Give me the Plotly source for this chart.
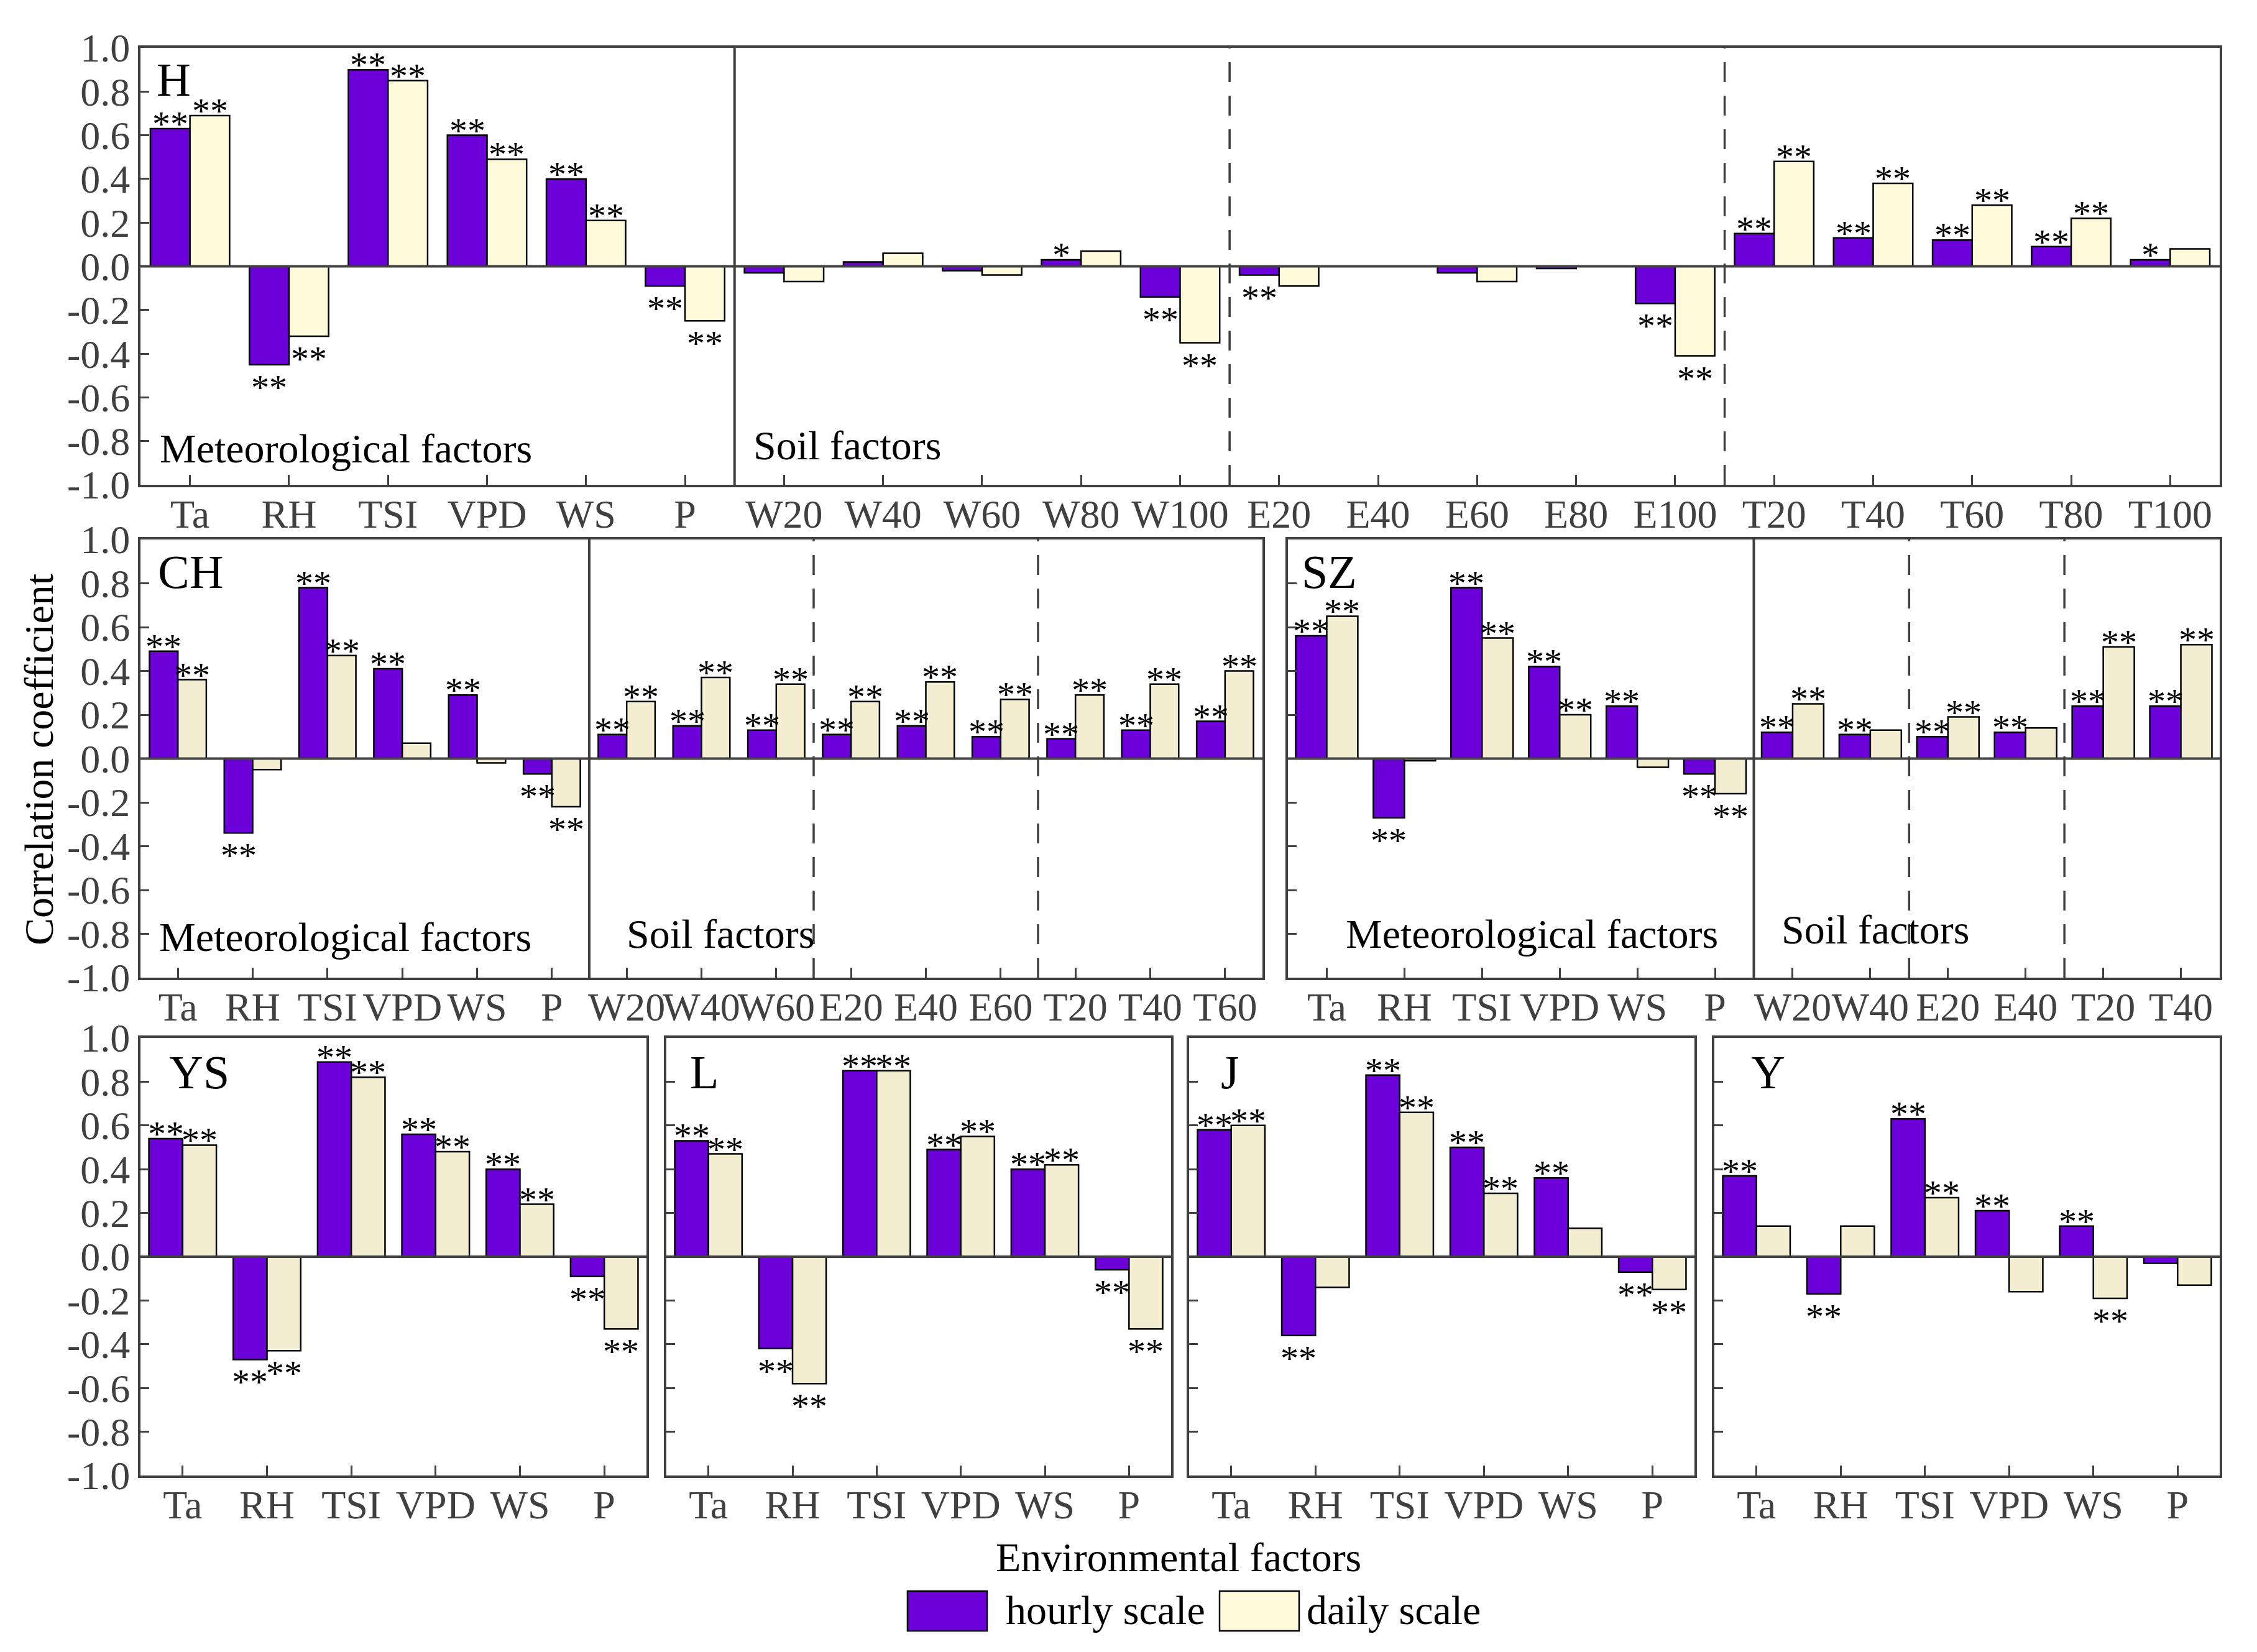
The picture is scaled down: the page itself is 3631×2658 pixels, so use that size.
import plotly.graph_objects as go

# ---- data ----
met = ["Ta", "RH", "TSI", "VPD", "WS", "P"]
h_soil = ["W20", "W40", "W60", "W80", "W100", "E20", "E40", "E60", "E80", "E100",
          "T20", "T40", "T60", "T80", "T100"]
ch_soil = ["W20", "W40", "W60", "E20", "E40", "E60", "T20", "T40", "T60"]
sz_soil = ["W20", "W40", "E20", "E40", "T20", "T40"]

H_hourly = [0.63, -0.45, 0.90, 0.60, 0.40, -0.09,
            -0.03, 0.02, -0.02, 0.03, -0.14, -0.04, 0.00, -0.03, -0.01, -0.17,
            0.15, 0.13, 0.12, 0.09, 0.03]
H_daily = [0.69, -0.32, 0.85, 0.49, 0.21, -0.25,
           -0.07, 0.06, -0.04, 0.07, -0.35, -0.09, 0.00, -0.07, 0.00, -0.41,
           0.48, 0.38, 0.28, 0.22, 0.08]
H_sig_hourly = ["**", "**", "**", "**", "**", "**", "", "", "", "*", "**",
                "**", "", "", "", "**", "**", "**", "**", "**", "*"]
H_sig_daily = ["**", "**", "**", "**", "**", "**", "", "", "", "", "**",
               "", "", "", "", "**", "**", "**", "**", "**", ""]

CH_hourly = [0.49, -0.34, 0.78, 0.41, 0.29, -0.07,
             0.11, 0.15, 0.13, 0.11, 0.15, 0.10, 0.09, 0.13, 0.17]
CH_daily = [0.36, -0.05, 0.47, 0.07, -0.02, -0.22,
            0.26, 0.37, 0.34, 0.26, 0.35, 0.27, 0.29, 0.34, 0.40]
CH_sig_hourly = ["**"] * 15
CH_sig_daily = ["**", "", "**", "", "", "**",
                "**", "**", "**", "**", "**", "**", "**", "**", "**"]

SZ_hourly = [0.56, -0.27, 0.78, 0.42, 0.24, -0.07,
             0.12, 0.11, 0.10, 0.12, 0.24, 0.24]
SZ_daily = [0.65, -0.01, 0.55, 0.20, -0.04, -0.16,
            0.25, 0.13, 0.19, 0.14, 0.51, 0.52]
SZ_sig_hourly = ["**"] * 12
SZ_sig_daily = ["**", "", "**", "**", "", "**", "**", "", "**", "", "**", "**"]

YS_hourly = [0.54, -0.47, 0.89, 0.56, 0.40, -0.09]
YS_daily = [0.51, -0.43, 0.82, 0.48, 0.24, -0.33]
YS_sig_hourly = ["**", "**", "**", "**", "**", "**"]
YS_sig_daily = ["**", "**", "**", "**", "**", "**"]

L_hourly = [0.53, -0.42, 0.85, 0.49, 0.40, -0.06]
L_daily = [0.47, -0.58, 0.85, 0.55, 0.42, -0.33]
L_sig_hourly = ["**", "**", "**", "**", "**", "**"]
L_sig_daily = ["**", "**", "**", "**", "**", "**"]

J_hourly = [0.58, -0.36, 0.83, 0.50, 0.36, -0.07]
J_daily = [0.60, -0.14, 0.66, 0.29, 0.13, -0.15]
J_sig_hourly = ["**", "**", "**", "**", "**", "**"]
J_sig_daily = ["**", "", "**", "**", "", "**"]

Y_hourly = [0.37, -0.17, 0.63, 0.21, 0.14, -0.03]
Y_daily = [0.14, 0.14, 0.27, -0.16, -0.19, -0.13]
Y_sig_hourly = ["**", "**", "**", "**", "**", ""]
Y_sig_daily = ["", "", "**", "", "**", ""]

y_ticks = [-1.0, -0.8, -0.6, -0.4, -0.2, 0.0, 0.2, 0.4, 0.6, 0.8, 1.0]
y_labels = ["-1.0", "-0.8", "-0.6", "-0.4", "-0.2", "0.0", "0.2", "0.4", "0.6", "0.8", "1.0"]

# ---- layout helpers ----
# page body has an 8px margin, so the figure is drawn 16px smaller and positions
# below are given in screen pixels of the 3631x2658 window
SW, SH = 3631, 2658
PAD = 8
W, H = SW - 2 * PAD, SH - 2 * PAD
FONT = "Liberation Serif, Times New Roman, serif"
AXC = "#404040"
PURPLE = "#6B00D8"


def px_x(v):
    return (v - PAD) / W


def px_y(v):
    return 1 - (v - PAD) / H


# name, categories, hourly, daily, sig_h, sig_d, x px range, y px range, show y labels,
# bar width, daily colour, solid separator, dashed separators
panels = [
    ("H", met + h_soil, H_hourly, H_daily, H_sig_hourly, H_sig_daily,
     (226, 3571), (77, 780), True, 0.40, "#FFFAD9", 5.5, [10.5, 15.5]),
    ("CH", met + ch_soil, CH_hourly, CH_daily, CH_sig_hourly, CH_sig_daily,
     (226, 2031), (868, 1573), True, 0.38, "#F3EDD1", 5.5, [8.5, 11.5]),
    ("SZ", met + sz_soil, SZ_hourly, SZ_daily, SZ_sig_hourly, SZ_sig_daily,
     (2072, 3571), (868, 1573), False, 0.40, "#F3EDD1", 5.5, [7.5, 9.5]),
    ("YS", met, YS_hourly, YS_daily, YS_sig_hourly, YS_sig_daily,
     (226, 1040), (1670, 2374), True, 0.40, "#F3EDD1", None, []),
    ("L", met, L_hourly, L_daily, L_sig_hourly, L_sig_daily,
     (1072, 1884), (1670, 2374), False, 0.40, "#F3EDD1", None, []),
    ("J", met, J_hourly, J_daily, J_sig_hourly, J_sig_daily,
     (1913, 2726), (1670, 2374), False, 0.40, "#F3EDD1", None, []),
    ("Y", met, Y_hourly, Y_daily, Y_sig_hourly, Y_sig_daily,
     (2758, 3571), (1670, 2374), False, 0.40, "#F3EDD1", None, []),
]

# label positions (left px, middle px) for panel letters and group texts
letter_pos = {"H": (250, 128), "CH": (252, 920), "SZ": (2092, 920), "YS": (270, 1725),
              "L": (1108, 1725), "J": (1962, 1725), "Y": (2815, 1725)}
group_text = [
    ("Meteorological factors", 255, 722), ("Soil factors", 1210, 716),
    ("Meteorological factors", 254, 1507), ("Soil factors", 1006, 1502),
    ("Meteorological factors", 2163, 1502), ("Soil factors", 2864, 1495),
]

fig = go.Figure()
shapes = []
annotations = []

for i, (name, cats, hv, dv, sh, sd, xr, yr, ylab, w, dcol, solid, dashed) in enumerate(panels, start=1):
    xa = "x" if i == 1 else f"x{i}"
    ya = "y" if i == 1 else f"y{i}"
    for vals, sig, col, off in [(hv, sh, PURPLE, -w), (dv, sd, dcol, 0)]:
        fig.add_trace(go.Bar(
            x=cats, y=vals,
            marker=dict(color=col, line=dict(color="black", width=2.5)),
            width=w, offset=off, xaxis=xa, yaxis=ya, showlegend=False,
            hoverinfo="x+y",
        ))
        # significance stars just beyond the bar end
        for k, (v, s) in enumerate(zip(vals, sig)):
            if not s:
                continue
            annotations.append(dict(
                text=s, x=k + off + w / 2, y=v, xref=xa, yref=ya, showarrow=False,
                xanchor="center", yanchor="bottom" if v >= 0 else "top",
                yshift=-27 if v >= 0 else -2,
                font=dict(family=FONT, size=58, color="black"),
            ))

    key = "" if i == 1 else str(i)
    fig.layout["xaxis" + key] = dict(
        domain=[px_x(xr[0]), px_x(xr[1])], anchor=ya, type="category",
        tickmode="array", tickvals=cats, ticktext=cats, tickangle=0,
        range=[-0.5, len(cats) - 0.5], automargin=False,
        showline=True, mirror=True, linecolor=AXC, linewidth=4,
        ticks="inside", ticklen=16, tickwidth=3, tickcolor=AXC,
        ticklabelstandoff=-12,
        tickfont=dict(family=FONT, size=64, color=AXC),
        showgrid=False, zeroline=False, fixedrange=True,
    )
    fig.layout["yaxis" + key] = dict(
        domain=[px_y(yr[1]), px_y(yr[0])], anchor=xa, range=[-1, 1],
        tickmode="array", tickvals=y_ticks, ticktext=y_labels,
        showticklabels=ylab, automargin=False,
        showline=True, mirror=True, linecolor=AXC, linewidth=4,
        ticks="inside", ticklen=14, tickwidth=3, tickcolor=AXC,
        tickfont=dict(family=FONT, size=64, color=AXC),
        showgrid=False, zeroline=False, fixedrange=True,
    )

    # zero line
    shapes.append(dict(type="line", xref=f"{xa} domain", yref=ya, x0=0, x1=1, y0=0, y1=0,
                       line=dict(color=AXC, width=4), layer="above"))
    if solid is not None:
        shapes.append(dict(type="line", xref=xa, yref=f"{ya} domain", x0=solid, x1=solid,
                           y0=0, y1=1, line=dict(color=AXC, width=4), layer="above"))
    for d in dashed:
        shapes.append(dict(type="line", xref=xa, yref=f"{ya} domain", x0=d, x1=d,
                           y0=0, y1=1, line=dict(color=AXC, width=3.5, dash="32px,22px"),
                           layer="above"))

    lx, ly = letter_pos[name]
    annotations.append(dict(text=name, x=px_x(lx), y=px_y(ly), xref="paper", yref="paper",
                            xanchor="left", yanchor="middle", showarrow=False,
                            font=dict(family=FONT, size=76, color="black")))

for txt, lx, ly in group_text:
    annotations.append(dict(text=txt, x=px_x(lx), y=px_y(ly), xref="paper", yref="paper",
                            xanchor="left", yanchor="middle", showarrow=False,
                            font=dict(family=FONT, size=66, color="black")))

# axis titles
annotations.append(dict(text="Correlation coefficient", x=px_x(62), y=px_y(1222),
                        xref="paper", yref="paper", textangle=-90, showarrow=False,
                        xanchor="center", yanchor="middle",
                        font=dict(family=FONT, size=66, color="black")))
annotations.append(dict(text="Environmental factors", x=px_x(1896), y=px_y(2505),
                        xref="paper", yref="paper", showarrow=False,
                        xanchor="center", yanchor="middle",
                        font=dict(family=FONT, size=66, color="black")))

# legend
leg = [("hourly scale", PURPLE, 1460, 1616), ("daily scale", "#FFFAD9", 1962, 2100)]
for txt, col, bx, tx in leg:
    shapes.append(dict(type="rect", xref="paper", yref="paper",
                       x0=px_x(bx), x1=px_x(bx + 128), y0=px_y(2624), y1=px_y(2560),
                       fillcolor=col, line=dict(color="black", width=2.5)))
    annotations.append(dict(text=txt, x=px_x(tx), y=px_y(2590), xref="paper", yref="paper",
                            xanchor="left", yanchor="middle", showarrow=False,
                            font=dict(family=FONT, size=66, color="black")))

fig.update_layout(
    width=W, height=H,
    margin=dict(l=0, r=0, t=0, b=0, autoexpand=False),
    paper_bgcolor="white", plot_bgcolor="white",
    barmode="overlay",
    shapes=shapes, annotations=annotations,
    font=dict(family=FONT),
)

fig.write_html("out.html")
